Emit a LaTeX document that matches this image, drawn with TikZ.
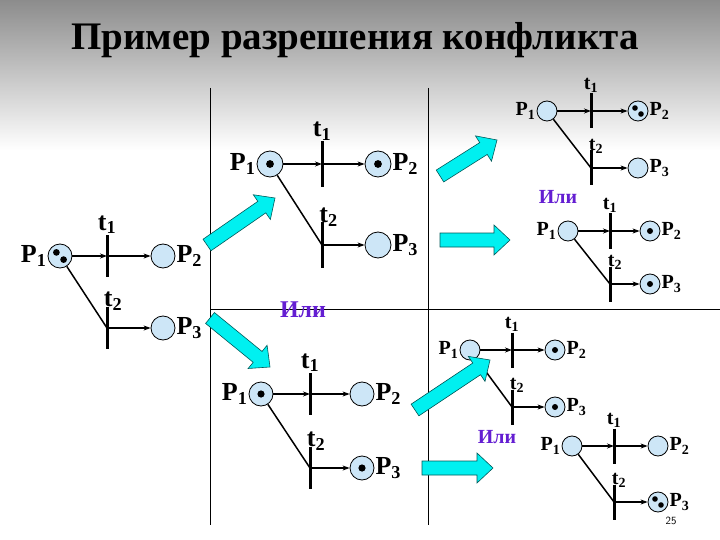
\documentclass[tikz,border=0pt]{standalone}
\usepackage{fontspec}
\setmainfont{Liberation Serif}
\usetikzlibrary{arrows.meta,calc}
\definecolor{plc}{RGB}{205,230,247}
\definecolor{ili}{RGB}{100,30,210}
\definecolor{cy}{RGB}{0,240,240}
\tikzset{
 place/.style={circle,draw,fill=plc,inner sep=0pt,line width=0.8pt},
 bar/.style={line width=3pt},
 arc/.style={line width=1.5pt,-{Stealth[length=7pt,width=5pt]}},
 plain/.style={line width=1.5pt},
 lab/.style={inner sep=1pt},
 bigarrow/.style={draw=teal!70!black,fill=cy,line width=0.6pt,line join=miter},
 ilis/.style={text=ili,font=\bfseries\fontsize{24}{24}\selectfont},
 sep/.style={line width=0.6pt}
}
\newcommand\mytoks[3]{%
 \ifcase#2\relax
 \or \fill (#1) circle ({0.3*#3});
 \or \fill ($(#1)+({-0.3*#3},{-0.3*#3})$) circle ({0.28*#3}); \fill ($(#1)+({0.3*#3},{0.3*#3})$) circle ({0.28*#3});
 \fi}
\def\mytokparse#1#2#3\relax#4#5{\mytoks{#4p1}{#1}{#5}\mytoks{#4p2}{#2}{#5}\mytoks{#4p3}{#3}{#5}}
% #1 id, #2 P1x, #3 y, #4 tx, #5 P2x, #6 y3, #7 r, #8 tokens abc, #9 font size
\newcommand\mynet[9]{%
 \node[place,minimum size={2*#7}] (#1p1) at (#2,#3) {};
 \node[place,minimum size={2*#7}] (#1p2) at (#5,#3) {};
 \node[place,minimum size={2*#7}] (#1p3) at (#5,#6) {};
 \coordinate (#1ta) at (#4,{#3-1.75*#7});
 \coordinate (#1tb) at (#4,{#3+1.75*#7});
 \coordinate (#1tc) at (#4,{#6-1.75*#7});
 \coordinate (#1td) at (#4,{#6+1.75*#7});
 \coordinate (#1j1) at (#4,#3);
 \coordinate (#1j2) at (#4,#6);
 \draw[bar] (#1ta) -- (#1tb);
 \draw[bar] (#1tc) -- (#1td);
 \draw[arc] (#1p1) -- (#1j1);
 \draw[arc] (#1j1) -- (#1p2);
 \draw[plain] (#1p1) -- (#1j2);
 \draw[arc] (#1j2) -- (#1p3);
 \mytokparse#8\relax{#1}{#7}%
 \node[lab,anchor=east,font=\bfseries\fontsize{#9}{#9}\selectfont] at (#1p1.west) {P\textsubscript{1}};
 \node[lab,anchor=west,font=\bfseries\fontsize{#9}{#9}\selectfont] at (#1p2.east) {P\textsubscript{2}};
 \node[lab,anchor=west,font=\bfseries\fontsize{#9}{#9}\selectfont] at (#1p3.east) {P\textsubscript{3}};
 \node[lab,anchor=south,font=\bfseries\fontsize{#9}{#9}\selectfont] at (#1ta) {t\textsubscript{1}};
 \node[lab,anchor=south,font=\bfseries\fontsize{#9}{#9}\selectfont] at ($(#1tc)+({0.5*#7},{0.4*#7})$) {t\textsubscript{2}};
}
% #1 id, #2 start, #3 end
\newcommand\bigarr[3]{%
 \coordinate (#1s) at #2; \coordinate (#1e) at #3;
 \coordinate (#1h) at ($(#1e)!16pt!(#1s)$);
 \draw[bigarrow] ($(#1s)!7pt!90:(#1e)$) -- ($(#1h)!7pt!-90:(#1s)$) -- ($(#1h)!15pt!-90:(#1s)$) -- (#1e)
   -- ($(#1h)!15pt!90:(#1s)$) -- ($(#1h)!7pt!90:(#1s)$) -- ($(#1s)!7pt!-90:(#1e)$) -- cycle;
}
\begin{document}
\begin{tikzpicture}[x=1pt,y=-1pt]
\useasboundingbox (0,0) rectangle (720,540);
\shade[top color=black!45,bottom color=white] (0,0) rectangle (720,150);
\fill[white] (0,150) rectangle (720,540);
\node[font=\bfseries\fontsize{39}{39}\selectfont] (title) at (355,40) {Пример разрешения конфликта};
\draw[sep] (210,88) coordinate (v1a) -- (210,525) coordinate (v1b);
\draw[sep] (428,88) coordinate (v2a) -- (428,525) coordinate (v2b);
\draw[sep] (210,309) coordinate (h1) -- (720,309) coordinate (h2);
\mynet{a}{60}{256}{107}{163}{328}{12}{200}{26}
\mynet{b}{270}{164}{322}{378}{245}{13}{110}{26}
\mynet{c}{261}{394}{310}{362}{468}{12}{101}{26}
\mynet{d}{547}{111}{591}{638}{168}{10}{020}{20}
\mynet{e}{568}{231}{610}{650}{284}{10}{011}{20}
\mynet{f}{470}{350}{512}{555}{407}{10}{011}{20}
\mynet{g}{572}{446}{614}{658}{502}{10}{002}{20}
\bigarr{A1}{(207,245)}{(275,198)}
\bigarr{A2}{(210,318)}{(270,367)}
\bigarr{A3}{(440,176)}{(497,140)}
\bigarr{A4}{(440,240)}{(510,240)}
\bigarr{A5}{(415,410)}{(490,360)}
\bigarr{A6}{(422,468)}{(493,468)}
\node[ilis] (i1) at (303,310) {Или};
\node[ilis,font=\bfseries\fontsize{20}{20}\selectfont] (i2) at (558,197) {Или};
\node[ilis,font=\bfseries\fontsize{20}{20}\selectfont] (i3) at (497,437) {Или};
\node[font=\sffamily\fontsize{11}{11}\selectfont] (pg) at (671,521) {25};
\end{tikzpicture}
\end{document}
